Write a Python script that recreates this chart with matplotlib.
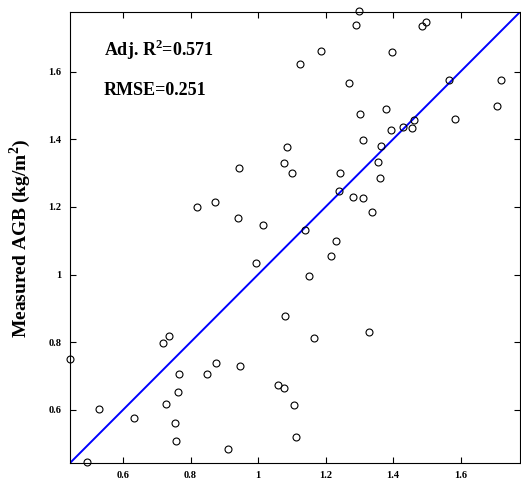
import matplotlib
matplotlib.use("Agg")
import matplotlib.pyplot as plt

# estimated vs measured AGB (kg/m2)
estimated = [1.299, 1.291, 1.487, 1.499, 1.186, 1.397, 1.124, 1.567, 1.719, 1.269,
             1.707, 1.378, 1.303, 1.584, 1.461, 1.429, 1.455, 1.393, 1.087, 1.310,
             1.365, 1.077, 1.355, 1.102, 1.243, 1.360, 1.239, 1.280, 1.311, 1.338,
             1.015, 1.138, 1.230, 0.944, 0.818, 0.872, 0.940, 0.994, 0.718, 0.737,
             0.443, 0.766, 0.849, 0.876, 0.948, 0.764, 0.528, 0.633, 0.728, 0.753,
             0.756, 0.910, 0.494, 1.215, 1.151, 1.079, 1.167, 1.328, 1.060, 1.078,
             1.107, 1.112]
measured = [1.778, 1.738, 1.736, 1.747, 1.660, 1.658, 1.622, 1.575, 1.575, 1.565,
            1.497, 1.490, 1.476, 1.461, 1.456, 1.437, 1.434, 1.428, 1.378, 1.398,
            1.380, 1.329, 1.334, 1.301, 1.301, 1.285, 1.248, 1.230, 1.225, 1.185,
            1.145, 1.131, 1.100, 1.315, 1.200, 1.215, 1.166, 1.034, 0.799, 0.817,
            0.751, 0.707, 0.707, 0.739, 0.730, 0.652, 0.602, 0.576, 0.618, 0.560,
            0.509, 0.485, 0.447, 1.054, 0.997, 0.878, 0.813, 0.830, 0.673, 0.664,
            0.615, 0.521]

lims = [0.443, 1.776]
ticks = [0.6, 0.8, 1.0, 1.2, 1.4, 1.6]
tick_labels = ["0.6", "0.8", "1", "1.2", "1.4", "1.6"]

plt.rcParams['font.family'] = ['Liberation Serif', 'DejaVu Serif']
plt.rcParams['mathtext.fontset'] = 'custom'
plt.rcParams['mathtext.rm'] = 'Liberation Serif:bold'
plt.rcParams['mathtext.bf'] = 'Liberation Serif:bold'

fig = plt.figure(figsize=(5.21, 4.84), dpi=100)
ax = fig.add_axes([70 / 521, 21 / 484, 450 / 521, 451 / 484])

# 1:1 line
ax.plot(lims, lims, color="#0000ff", lw=1.4, zorder=2)
ax.plot(estimated, measured, "o", mfc="none", mec="black", ms=5, mew=0.8,
        zorder=3, clip_on=False)

ax.set_xlim(lims)
ax.set_ylim(lims)
ax.set_xticks(ticks)
ax.set_yticks(ticks)
ax.set_xticklabels(tick_labels, fontsize=7.5, fontweight="bold")
ax.set_yticklabels(tick_labels, fontsize=7.5, fontweight="bold")
ax.tick_params(direction="in", top=True, right=True, length=4, width=0.8, pad=6)
for s in ax.spines.values():
    s.set_linewidth(0.8)

fig.text(20 / 521, 1 - 238 / 484, "Measured AGB (kg/m$^\\mathbf{2}$)", rotation=90,
         ha="center", va="center", fontsize=14, fontweight="bold")

ax.text(0.075, 0.915, "Adj. R$^\\mathbf{2}$=0.571", transform=ax.transAxes,
        fontsize=13, fontweight="bold", va="center")
ax.text(0.075, 0.826, "RMSE=0.251", transform=ax.transAxes,
        fontsize=13, fontweight="bold", va="center")

fig.savefig("out.png", dpi=100)
